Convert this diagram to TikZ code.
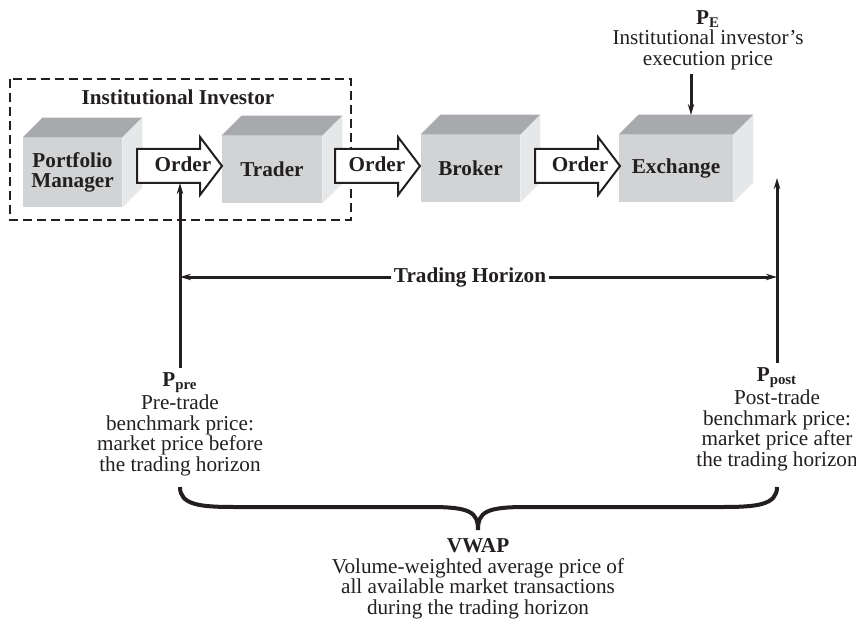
\documentclass[tikz,border=0pt]{standalone}
\usepackage{fontspec}
\setmainfont{Liberation Serif}
\usetikzlibrary{arrows.meta}

\definecolor{inkgray}{HTML}{231F20}
\definecolor{frontgray}{HTML}{D1D3D4}
\definecolor{topgray}{HTML}{A7A9AC}
\definecolor{sidegray}{HTML}{E6E7E8}
\newcommand{\figfont}{\fontsize{10.6}{10.3}\selectfont}

\tikzset{
  boxfront/.style={fill=frontgray, inner sep=0pt, align=center, font=\figfont\bfseries},
  orderarrow/.style={draw=inkgray, fill=white, line width=1pt},
  price/.style={align=center, font=\figfont, inner sep=2pt},
  bar/.style={line width=1.5pt, draw=inkgray},
}

\begin{document}
\begin{tikzpicture}[x=0.5pt, y=-0.5pt, >={Stealth[length=5.5pt,width=3.2pt]}, inkgray]
    \useasboundingbox (0,0) rectangle (856,620);

    % the dashed frame round the institutional investor
    \draw[line width=0.9pt, dash pattern=on 4.5pt off 2.5pt] (10,79) rectangle (351,220);
    \node[font=\figfont\bfseries] (inv) at (178,97) {Institutional Investor};

    % the four boxes, front face with top and side
    \foreach \n/\x/\y/\w/\h/\txt in {pm/72.5/172.5/49.5/34.5/{Portfolio\\Manager},
        tr/272/169.5/50/33.5/Trader, br/470.5/168.5/49.5/33.5/Broker,
        ex/676/168.5/57/33.5/Exchange}{
      \node[boxfront, minimum width=\w pt, minimum height=\h pt] (\n) at (\x,\y) {\txt};
      \fill[topgray] (\n.north west) -- ++(20,-20) -- ([shift={(20,-20)}]\n.north east) -- (\n.north east) -- cycle;
      \fill[sidegray] (\n.north east) -- ++(20,-20) -- ([shift={(20,-20)}]\n.south east) -- (\n.south east) -- cycle;
    }

    % the order arrows between the boxes
    \foreach \i/\x/\tx in {1/137/183, 2/335/377, 3/535/580}{
      \draw[orderarrow] (\x,149) -- ++(63,0) -- ++(0,-12) -- ++(22,29) -- ++(-22,29) -- ++(0,-12) -- ++(-63,0) -- cycle;
      \node[font=\figfont\bfseries, anchor=base, inner sep=0pt] (o\i) at (\tx,172) {Order};
    }
    \coordinate (orderfoot) at (180,183);

    % the execution price above the exchange
    \node[price, anchor=north] (pe) at (708,6) {\textbf{P\textsubscript{E}}\\Institutional investor's\\execution price};
    \coordinate (exin) at (691,115);
    \draw[bar, ->] (exin |- pe.south) -- (exin);

    % the benchmark prices at both ends of the horizon
    \node[price, anchor=north] (ppre) at (180,368) {\textbf{P\textsubscript{pre}}\\Pre-trade\\benchmark price:\\market price before\\the trading horizon};
    \node[price, anchor=north] (ppost) at (777,363) {\textbf{P\textsubscript{post}}\\Post-trade\\benchmark price:\\market price after\\the trading horizon};
    \draw[bar, ->] (ppre.north) -- (orderfoot);
    \coordinate (postend) at (777,178);
    \draw[bar, ->] (ppost.north) -- (postend);

    % the trading horizon
    \node[font=\figfont\bfseries, inner sep=1.5pt] (th) at (470,277) {Trading Horizon};
    \draw[bar, ->] (th.west) -- (th.west -| ppre.north);
    \draw[bar, ->] (th.east) -- (th.east -| ppost.north);

    % the brace and the VWAP
    \draw[line width=2pt] (180,487) .. controls (180,505) and (200,507) .. (235,507) -- (430,507)
      .. controls (470,507) and (478,512) .. (478,530) .. controls (478,512) and (486,507) .. (526,507)
      -- (722,507) .. controls (757,507) and (777,505) .. (777,487);
    \node[price, anchor=north] (vwap) at (478,534) {\textbf{VWAP}\\Volume-weighted average price of\\all available market transactions\\during the trading horizon};
\end{tikzpicture}
\end{document}
